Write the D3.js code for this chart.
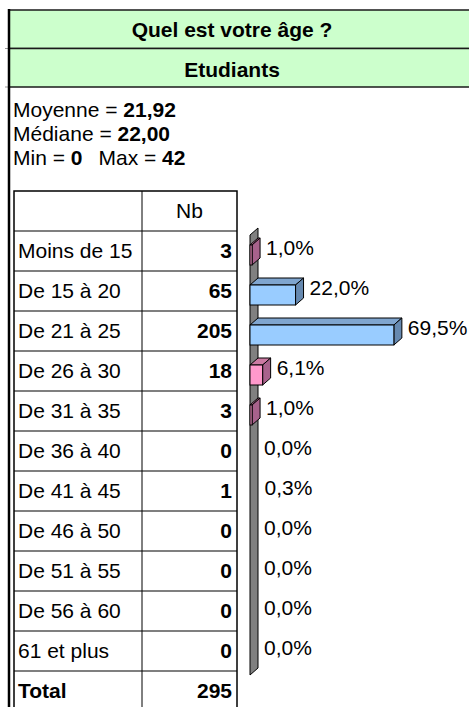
<!DOCTYPE html>
<html lang="fr">
<head>
<meta charset="UTF-8">
<title>Quel est votre âge ?</title>
<style>
  body { margin: 0; background: #fff; }
  svg { display: block; font-family: "Liberation Sans", Arial, sans-serif; }
</style>
</head>
<body>
<script src="https://cdn.jsdelivr.net/npm/d3@7"></script>
<script>
// donnees
var categories = ["Moins de 15", "De 15 à 20", "De 21 à 25", "De 26 à 30", "De 31 à 35",
  "De 36 à 40", "De 41 à 45", "De 46 à 50", "De 51 à 55", "De 56 à 60", "61 et plus"];
var counts = [3, 65, 205, 18, 3, 0, 1, 0, 0, 0, 0];
var percents = [1.0, 22.0, 69.5, 6.1, 1.0, 0.0, 0.3, 0.0, 0.0, 0.0, 0.0];
var total = 295;
var titles = ["Quel est votre âge ?", "Etudiants"];
var statLabels = ["Moyenne = ", "Médiane = ", "Min = ", "Max = "];
var statValues = ["21,92", "22,00", "0", "42"];

var width = 469, height = 707;
var fontSize = 21;
var tbl = { left: 14, mid: 142, right: 237, top: 191, headH: 40, rowH: 40 };
var depth = { dx: 8, dy: -7 };
var barH = 20;

var svg = d3.select("body").append("svg")
  .attr("width", width).attr("height", height);

// bandeaux verts du titre
var bands = svg.append("g");
bands.selectAll("rect").data(titles).enter().append("rect")
  .attr("x", 9).attr("y", function(d, i) { return 10 + i * 38.5; })
  .attr("width", width).attr("height", 38.5)
  .attr("fill", "#ccffcc").attr("stroke", "#1a1a1a").attr("stroke-width", 1.5);
bands.selectAll("text").data(titles).enter().append("text")
  .attr("x", 232).attr("y", function(d, i) { return 37 + i * 40; })
  .attr("text-anchor", "middle").attr("font-weight", "bold")
  .attr("font-size", fontSize).text(function(d) { return d; });

// petits traits a gauche des bandeaux
svg.selectAll("line.stub").data([48.5, 87]).enter().append("line")
  .attr("class", "stub").attr("x1", 5).attr("x2", 9)
  .attr("y1", function(d) { return d; }).attr("y2", function(d) { return d; })
  .attr("stroke", "#999");

// bord gauche epais
svg.append("line").attr("x1", 9).attr("x2", 9).attr("y1", 9).attr("y2", height)
  .attr("stroke", "#000").attr("stroke-width", 2.5);

// statistiques
var stats = svg.append("g").attr("font-size", fontSize);
function statLine(y, parts) {
  var t = stats.append("text").attr("x", 13).attr("y", y);
  parts.forEach(function(p) {
    t.append("tspan").attr("font-weight", p[1] ? "bold" : null)
      .attr("dx", p[2] || null).text(p[0]);
  });
}
statLine(117, [[statLabels[0], false], [statValues[0], true]]);
statLine(141, [[statLabels[1], false], [statValues[1], true]]);
statLine(165, [[statLabels[2], false], [statValues[2], true], [statLabels[3], false, 16], [statValues[3], true]]);

// tableau
var rowsY = d3.scaleBand().domain(categories.concat(["Total"]))
  .range([tbl.top + tbl.headH, tbl.top + tbl.headH + (categories.length + 1) * tbl.rowH]);
var table = svg.append("g").attr("font-size", fontSize);
table.append("rect").attr("x", tbl.left).attr("y", tbl.top)
  .attr("width", tbl.right - tbl.left).attr("height", tbl.headH + (categories.length + 1) * tbl.rowH)
  .attr("fill", "none").attr("stroke", "#000").attr("stroke-width", 1.5);
table.append("line").attr("x1", tbl.mid).attr("x2", tbl.mid)
  .attr("y1", tbl.top).attr("y2", height + 5).attr("stroke", "#000");
table.selectAll("line.row").data(rowsY.domain()).enter().append("line")
  .attr("class", "row").attr("x1", tbl.left).attr("x2", tbl.right)
  .attr("y1", function(d) { return rowsY(d); }).attr("y2", function(d) { return rowsY(d); })
  .attr("stroke", "#000").attr("stroke-width", 1.2);
table.append("text").attr("x", (tbl.mid + tbl.right) / 2).attr("y", tbl.top + tbl.headH / 2)
  .attr("dy", "0.35em").attr("text-anchor", "middle").text("Nb");

var tableRows = categories.map(function(c, i) { return { label: c, value: counts[i], bold: false }; })
  .concat([{ label: "Total", value: total, bold: true }]);
var tr = table.selectAll("g.tr").data(tableRows).enter().append("g").attr("class", "tr")
  .attr("transform", function(d) { return "translate(0," + (rowsY(d.label) + rowsY.bandwidth() / 2) + ")"; });
tr.append("text").attr("x", tbl.left + 4).attr("dy", "0.35em")
  .attr("font-weight", function(d) { return d.bold ? "bold" : null; })
  .text(function(d) { return d.label; });
tr.append("text").attr("x", tbl.right - 5).attr("dy", "0.35em")
  .attr("text-anchor", "end").attr("font-weight", "bold")
  .text(function(d) { return d.value; });

// graphique en barres 3D
var x = d3.scaleLinear().domain([0, 100]).range([250, 457]);
var y = d3.scaleBand().domain(categories).range([235, 675]);

var chart = svg.append("g");
var y0 = y.range()[0], y1 = y.range()[1], x0 = x(0);
chart.append("path")
  .attr("d", "M" + x0 + "," + y1 + "L" + x0 + "," + y0 + "L" + (x0 + depth.dx) + "," + (y0 + depth.dy) +
    "L" + (x0 + depth.dx) + "," + (y1 + depth.dy) + "Z")
  .attr("fill", "#808080").attr("stroke", "#000").attr("stroke-width", 1);

var palette = {
  blue: { front: "#99ccff", top: "#7fa5cf", side: "#6689b0" },
  pink: { front: "#ff99cc", top: "#cc7aa3", side: "#a8628c" }
};
var bars = chart.selectAll("g.bar")
  .data(categories.map(function(c, i) { return { cat: c, p: percents[i] }; }))
  .enter().append("g").attr("class", "bar");

var drawn = bars.filter(function(d) { return x(d.p) - x0 >= 1; });
drawn.each(function(d) {
  var g = d3.select(this);
  var col = d.p >= 10 ? palette.blue : palette.pink;
  var l = x0, r = x(d.p), t = y(d.cat) + y.bandwidth() / 2 - barH / 2, b = t + barH;
  var dx = depth.dx, dy = depth.dy;
  g.append("path").attr("d", "M" + l + "," + t + "L" + (l + dx) + "," + (t + dy) + "L" + (r + dx) + "," + (t + dy) + "L" + r + "," + t + "Z")
    .attr("fill", col.top).attr("stroke", "#000").attr("stroke-width", 1);
  g.append("path").attr("d", "M" + r + "," + t + "L" + (r + dx) + "," + (t + dy) + "L" + (r + dx) + "," + (b + dy) + "L" + r + "," + b + "Z")
    .attr("fill", col.side).attr("stroke", "#000").attr("stroke-width", 1);
  g.append("rect").attr("x", l).attr("y", t).attr("width", r - l).attr("height", barH)
    .attr("fill", col.front).attr("stroke", "#000").attr("stroke-width", 1);
});

bars.append("text")
  .attr("x", function(d) { return x(d.p) + depth.dx + 6; })
  .attr("y", function(d) { return y(d.cat) + y.bandwidth() / 2 - 7; })
  .attr("dy", "0.35em").attr("font-size", fontSize)
  .text(function(d) { return d3.format(".1f")(d.p).replace(".", ",") + "%"; });
</script>
</body>
</html>
